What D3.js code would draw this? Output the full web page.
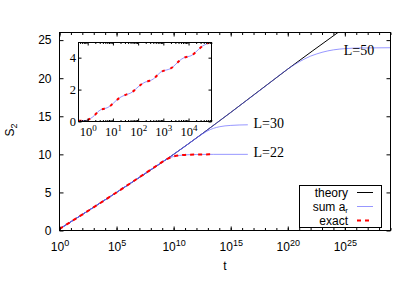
<!DOCTYPE html>
<meta charset="utf-8">
<style>
body { margin: 0; background: #fff; }
svg { font-family: "Liberation Sans", Arial, sans-serif; }
.serif { font-family: "Liberation Serif", "Times New Roman", serif; }
.axis path { stroke: none; }
.axis line { stroke: #000; }
</style>
<body>
<script src="https://cdn.jsdelivr.net/npm/d3@7"></script>
<script>
// values: log10(t) and S2

// main plot: theory curve
var theoryLogT = [0, 5, 10, 15, 20, 24.4];
var theoryS    = [0.2, 5.0, 10.0, 15.5, 21.2, 26.0];

// main plot: sum a_r for L=22, 30, 50
var sum22LogT = [0, 5, 8, 8.5, 9, 9.5, 10, 10.5, 11, 12, 13.5, 16.5];
var sum22S    = [0.2, 5.0, 8.0, 8.5, 9.0, 9.45, 9.72, 9.86, 9.93, 9.98, 10.0, 10.0];
var sum30LogT = [0, 5, 8, 10, 11, 11.5, 12, 12.5, 13, 13.5, 14, 15, 16.5];
var sum30S    = [0.2, 5.0, 8.0, 10.0, 11.05, 11.6, 12.15, 12.65, 13.1, 13.42, 13.62, 13.8, 13.88];
var sum50LogT = [0, 5, 10, 15, 18, 20, 20.5, 21, 21.5, 22, 22.5, 23, 24, 25, 26.5, 29];
var sum50S    = [0.2, 5.0, 10.0, 15.5, 18.9, 21.2, 21.7, 22.15, 22.55, 22.9, 23.17, 23.4, 23.72, 23.88, 23.97, 24.0];

// main plot: exact (L=22)
var exactLogT = [0, 5, 8, 8.5, 9, 9.5, 10, 10.5, 11, 12, 13.5];
var exactS    = [0.2, 5.0, 8.0, 8.5, 9.0, 9.45, 9.72, 9.86, 9.93, 9.98, 10.0];

// inset: small t, sum a_r and exact lie on top of each other
var insetLogT = [-0.36, -0.15, 0.0, 0.1, 0.25, 0.4, 0.5, 0.65, 0.8, 0.95, 1.1, 1.25, 1.4, 1.55, 1.7, 1.85,
                 2.0, 2.15, 2.3, 2.45, 2.6, 2.75, 2.9, 3.05, 3.2, 3.35, 3.5, 3.65, 3.8, 3.95, 4.1, 4.25,
                 4.4, 4.55, 4.7, 4.93];
var insetS    = [0.04, 0.05, 0.1, 0.18, 0.35, 0.6, 0.72, 0.8, 0.88, 1.05, 1.27, 1.47, 1.6, 1.7, 1.78, 1.95,
                 2.17, 2.35, 2.48, 2.55, 2.66, 2.88, 3.1, 3.2, 3.26, 3.38, 3.6, 3.82, 3.98, 4.06, 4.12, 4.3,
                 4.52, 4.72, 4.85, 5.05];

// ticks
var mainXTicks = [0, 5, 10, 15, 20, 25];
var mainYTicks = [0, 5, 10, 15, 20, 25];
var insetXTicks = [0, 1, 2, 3, 4];
var insetYTicks = [0, 2, 4];

// curve labels
var curveLabels = ["L=22", "L=30", "L=50"];
var labelLogT = [17, 17, 24.9];
var labelS = [9.6, 13.5, 23.1];

var legendNames = ["theory", "sum a", "exact"];

var W = 415, H = 291;
var svg = d3.select("body").append("svg").attr("width", W).attr("height", H);

var pts = function(lt, s) { return lt.map(function(d, i) { return [Math.pow(10, d), s[i]]; }); };

// ---------- main plot ----------
var m = {left: 59.5, right: 390.5, top: 32.5, bottom: 230.5};
var x = d3.scaleLog().domain([1, 1e29]).range([m.left, m.right]);
var y = d3.scaleLinear().domain([0, 26]).range([m.bottom, m.top]);

svg.append("clipPath").attr("id", "clipMain").append("rect")
    .attr("x", m.left).attr("y", m.top).attr("width", m.right - m.left).attr("height", m.bottom - m.top);

var line = d3.line().x(function(d) { return x(d[0]); }).y(function(d) { return y(d[1]); })
    .curve(d3.curveMonotoneX);

var gMain = svg.append("g").attr("clip-path", "url(#clipMain)");
gMain.append("path").datum(pts(theoryLogT, theoryS)).attr("d", line)
    .attr("fill", "none").attr("stroke", "#000").attr("stroke-width", 1);
[[sum22LogT, sum22S], [sum30LogT, sum30S], [sum50LogT, sum50S]].forEach(function(c) {
  gMain.append("path").datum(pts(c[0], c[1])).attr("d", line)
      .attr("fill", "none").attr("stroke", "#6060ff").attr("stroke-opacity", 0.65).attr("stroke-width", 1);
});
gMain.append("path").datum(pts(exactLogT, exactS)).attr("d", line)
    .attr("fill", "none").attr("stroke", "#ff0000").attr("stroke-width", 2).attr("stroke-dasharray", "4,4");

// axes
var majorX = mainXTicks.map(function(e) { return Math.pow(10, e); });
var minorX = d3.range(0, 30).map(function(e) { return Math.pow(10, e); });

svg.append("g").attr("class", "axis").attr("transform", "translate(0," + m.bottom + ")")
    .call(d3.axisBottom(x).tickValues(minorX).tickSize(-2.5).tickFormat(""));
var xAxis = svg.append("g").attr("class", "axis").attr("transform", "translate(0," + m.bottom + ")")
    .call(d3.axisBottom(x).tickValues(majorX).tickSize(-4).tickFormat(""));
svg.append("g").attr("class", "axis").attr("transform", "translate(0," + m.top + ")")
    .call(d3.axisTop(x).tickValues(minorX).tickSize(-2.5).tickFormat(""));
svg.append("g").attr("class", "axis").attr("transform", "translate(0," + m.top + ")")
    .call(d3.axisTop(x).tickValues(majorX).tickSize(-4).tickFormat(""));

xAxis.selectAll(".tick").each(function(d, i) {
  var t = d3.select(this).append("text").attr("y", 20).attr("fill", "#000")
      .attr("text-anchor", "middle").attr("font-size", 12).text("10");
  t.append("tspan").attr("dy", -5).attr("font-size", 9).text(mainXTicks[i]);
});

svg.append("g").attr("class", "axis").attr("transform", "translate(" + m.left + ",0)")
    .call(d3.axisLeft(y).tickValues(mainYTicks).tickSize(-4).tickPadding(8))
    .selectAll("text").attr("font-size", 12).attr("font-family", "Liberation Sans, Arial, sans-serif").attr("fill", "#000");
svg.append("g").attr("class", "axis").attr("transform", "translate(" + m.right + ",0)")
    .call(d3.axisRight(y).tickValues(mainYTicks).tickSize(-4).tickFormat(""));

svg.append("rect").attr("x", m.left).attr("y", m.top).attr("width", m.right - m.left)
    .attr("height", m.bottom - m.top).attr("fill", "none").attr("stroke", "#000");

// axis titles
svg.append("text").attr("x", 225).attr("y", 270).attr("text-anchor", "middle")
    .attr("font-size", 12).text("t");
var s2 = svg.append("text").attr("transform", "translate(14,130) rotate(-90)")
    .attr("text-anchor", "middle").attr("font-size", 12).text("S");
s2.append("tspan").attr("dy", 3).attr("font-size", 9).text("2");

// curve labels
svg.selectAll(".clab").data(curveLabels).enter().append("text")
    .attr("class", "serif")
    .attr("x", function(d, i) { return x(Math.pow(10, labelLogT[i])); })
    .attr("y", function(d, i) { return y(labelS[i]); })
    .attr("font-size", 14).text(function(d) { return d; });

// legend
var lg = svg.append("g");
lg.append("rect").attr("x", 299.5).attr("y", 185.5).attr("width", 82).attr("height", 42)
    .attr("fill", "#fff").attr("stroke", "#000");
var lgStyles = [
  {stroke: "#000", width: 1, dash: null, op: 1},
  {stroke: "#6060ff", width: 1, dash: null, op: 0.65},
  {stroke: "#ff0000", width: 2, dash: "4,4", op: 1}
];
legendNames.forEach(function(n, i) {
  var by = 197 + i * 14;
  var t = lg.append("text").attr("x", 348).attr("y", by).attr("text-anchor", "end")
      .attr("font-size", 12).text(n);
  if (i == 1) t.append("tspan").attr("dy", 2).attr("font-size", 8).text("r");
  lg.append("line").attr("x1", 357).attr("x2", 373).attr("y1", by - 4.5).attr("y2", by - 4.5)
      .attr("stroke", lgStyles[i].stroke).attr("stroke-width", lgStyles[i].width)
      .attr("stroke-opacity", lgStyles[i].op)
      .attr("stroke-dasharray", lgStyles[i].dash);
});

// ---------- inset ----------
var n = {left: 78.5, right: 211.5, top: 42.5, bottom: 121.5};
var xi = d3.scaleLog().domain([Math.pow(10, -0.365), Math.pow(10, 4.91)]).range([n.left, n.right]);
var yi = d3.scaleLinear().domain([0, 4.95]).range([n.bottom, n.top]);

svg.append("rect").attr("x", n.left).attr("y", n.top).attr("width", n.right - n.left)
    .attr("height", n.bottom - n.top).attr("fill", "#fff");

svg.append("clipPath").attr("id", "clipInset").append("rect")
    .attr("x", n.left).attr("y", n.top).attr("width", n.right - n.left).attr("height", n.bottom - n.top);

var lineI = d3.line().x(function(d) { return xi(d[0]); }).y(function(d) { return yi(d[1]); })
    .curve(d3.curveMonotoneX);
var gIn = svg.append("g").attr("clip-path", "url(#clipInset)");
gIn.append("path").datum(pts(insetLogT, insetS)).attr("d", lineI)
    .attr("fill", "none").attr("stroke", "#6060ff").attr("stroke-opacity", 0.65).attr("stroke-width", 1);
gIn.append("path").datum(pts(insetLogT, insetS)).attr("d", lineI)
    .attr("fill", "none").attr("stroke", "#ff0000").attr("stroke-width", 2).attr("stroke-dasharray", "3,6");

var majorXi = insetXTicks.map(function(e) { return Math.pow(10, e); });
var minorXi = [];
d3.range(-1, 5).forEach(function(e) {
  d3.range(2, 10).forEach(function(k) {
    var v = k * Math.pow(10, e);
    if (v > xi.domain()[0] && v < xi.domain()[1]) minorXi.push(v);
  });
});

svg.append("g").attr("class", "axis").attr("transform", "translate(0," + n.bottom + ")")
    .call(d3.axisBottom(xi).tickValues(minorXi).tickSize(-1.5).tickFormat(""));
var xiAxis = svg.append("g").attr("class", "axis").attr("transform", "translate(0," + n.bottom + ")")
    .call(d3.axisBottom(xi).tickValues(majorXi).tickSize(-3).tickFormat(""));
svg.append("g").attr("class", "axis").attr("transform", "translate(0," + n.top + ")")
    .call(d3.axisTop(xi).tickValues(minorXi).tickSize(-1.5).tickFormat(""));
svg.append("g").attr("class", "axis").attr("transform", "translate(0," + n.top + ")")
    .call(d3.axisTop(xi).tickValues(majorXi).tickSize(-3).tickFormat(""));

xiAxis.selectAll(".tick").each(function(d, i) {
  var t = d3.select(this).append("text").attr("class", "serif").attr("y", 14).attr("fill", "#000")
      .attr("text-anchor", "middle").attr("font-size", 12.5).text("10");
  t.append("tspan").attr("dy", -5).attr("font-size", 9).text(insetXTicks[i]);
});

svg.append("g").attr("class", "axis").attr("transform", "translate(" + n.left + ",0)")
    .call(d3.axisLeft(yi).tickValues(insetYTicks).tickSize(-3).tickPadding(2.5).tickFormat(d3.format("d")))
    .selectAll("text").attr("font-size", 12.5).attr("font-family", "Liberation Serif, serif").attr("fill", "#000");
svg.append("g").attr("class", "axis").attr("transform", "translate(" + n.right + ",0)")
    .call(d3.axisRight(yi).tickValues(insetYTicks).tickSize(-3).tickFormat(""));

svg.append("rect").attr("x", n.left).attr("y", n.top).attr("width", n.right - n.left)
    .attr("height", n.bottom - n.top).attr("fill", "none").attr("stroke", "#000");
</script>
</body>
